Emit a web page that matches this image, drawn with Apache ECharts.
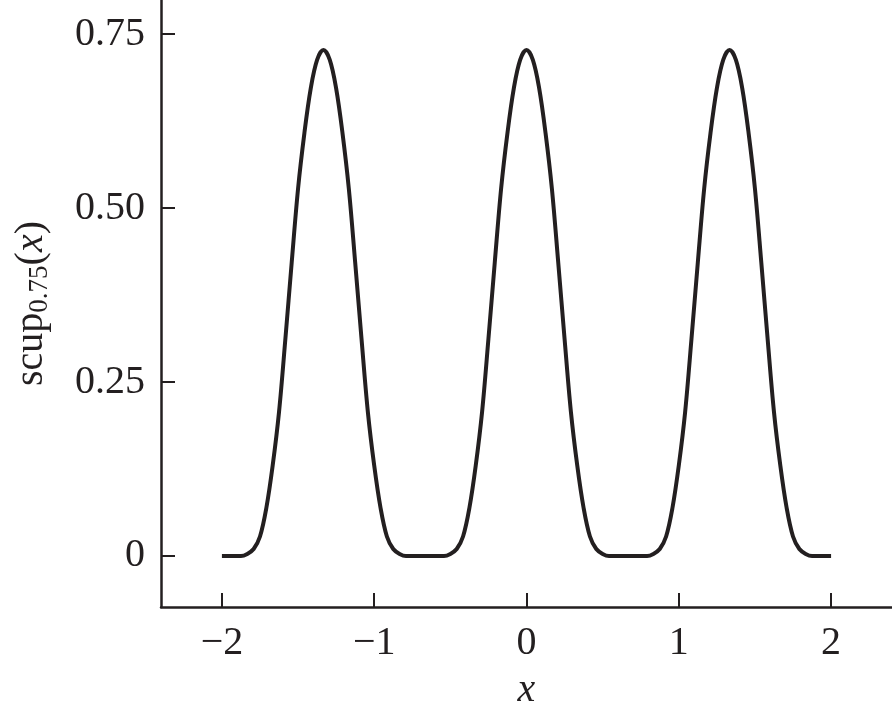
<!DOCTYPE html>
<html>
<head>
<meta charset="utf-8">
<script src="https://cdn.jsdelivr.net/npm/echarts@6/dist/echarts.min.js"></script>
<style>
html,body{margin:0;padding:0;background:#fff;}
#chart{width:892px;height:716px;}
</style>
</head>
<body>
<div id="chart"></div>
<script>
// x positions (step 1/24) from -2 to 2
var xValues = [
-2.0000,-1.9583,-1.9167,-1.8750,-1.8333,-1.7917,-1.7500,-1.7083,-1.6667,-1.6250,
-1.5833,-1.5417,-1.5000,-1.4583,-1.4167,-1.3750,-1.3333,-1.2917,-1.2500,-1.2083,
-1.1667,-1.1250,-1.0833,-1.0417,-1.0000,-0.9583,-0.9167,-0.8750,-0.8333,-0.7917,
-0.7500,-0.7083,-0.6667,-0.6250,-0.5833,-0.5417,-0.5000,-0.4583,-0.4167,-0.3750,
-0.3333,-0.2917,-0.2500,-0.2083,-0.1667,-0.1250,-0.0833,-0.0417,0.0000,0.0417,
0.0833,0.1250,0.1667,0.2083,0.2500,0.2917,0.3333,0.3750,0.4167,0.4583,
0.5000,0.5417,0.5833,0.6250,0.6667,0.7083,0.7500,0.7917,0.8333,0.8750,
0.9167,0.9583,1.0000,1.0417,1.0833,1.1250,1.1667,1.2083,1.2500,1.2917,
1.3333,1.3750,1.4167,1.4583,1.5000,1.5417,1.5833,1.6250,1.6667,1.7083,
1.7500,1.7917,1.8333,1.8750,1.9167,1.9583,2.0000
];
// scup_0.75(x) values
var yValues = [
0,0,0,0,0.003,0.010,0.028,0.069,0.130,0.207,
0.312,0.422,0.528,0.608,0.672,0.713,0.727,0.713,0.672,0.608,
0.528,0.422,0.312,0.207,0.130,0.069,0.028,0.010,0.003,0,
0,0,0,0,0,0,0.003,0.010,0.028,0.069,
0.130,0.207,0.312,0.422,0.528,0.608,0.672,0.713,0.727,0.713,
0.672,0.608,0.528,0.422,0.312,0.207,0.130,0.069,0.028,0.010,
0.003,0,0,0,0,0,0,0,0.003,0.010,
0.028,0.069,0.130,0.207,0.312,0.422,0.528,0.608,0.672,0.713,
0.727,0.713,0.672,0.608,0.528,0.422,0.312,0.207,0.130,0.069,
0.028,0.010,0.003,0,0,0,0
];
var xTicks = [-2, -1, 0, 1, 2];
var yTicks = [0, 0.25, 0.5, 0.75];
var yTickLabels = ['0', '0.25', '0.50', '0.75'];

var data = xValues.map(function (x, i) { return [x, yValues[i]]; });
var ink = '#231f20';
var serif = '"Times New Roman","Liberation Serif","DejaVu Serif",serif';

var chart = echarts.init(document.getElementById('chart'), null, {renderer: 'canvas'});
chart.setOption({
  animation: false,
  backgroundColor: '#ffffff',
  grid: {left: 161, right: 0, top: 0, bottom: 109, containLabel: false},
  xAxis: {
    type: 'value',
    min: -2.4, max: 2.4,
    name: 'x',
    nameLocation: 'middle',
    nameGap: 63,
    nameTextStyle: {fontFamily: serif, fontStyle: 'italic', fontSize: 40, color: ink},
    axisLine: {show: true, onZero: false, lineStyle: {color: ink, width: 2.5}},
    axisTick: {show: true, inside: true, length: 14, customValues: xTicks, lineStyle: {color: ink, width: 2}},
    axisLabel: {
      customValues: xTicks,
      margin: 16,
      fontFamily: serif, fontSize: 40, color: ink,
      formatter: function (v) { return String(v).replace('-', '\u2212'); }
    },
    splitLine: {show: false}
  },
  yAxis: {
    type: 'value',
    min: -0.0733, max: 0.799,
    name: '{a|scup}{s|0.75}{a|(}{i|x}{a|)}',
    nameLocation: 'middle',
    nameGap: 108,
    nameRotate: 90,
    nameTextStyle: {
      color: ink,
      rich: {
        a: {fontFamily: serif, fontSize: 40, color: ink},
        i: {fontFamily: serif, fontSize: 40, fontStyle: 'italic', color: ink},
        s: {fontFamily: serif, fontSize: 27, color: ink, verticalAlign: 'bottom', padding: [16, 0, 0, 0]}
      }
    },
    axisLine: {show: true, onZero: false, lineStyle: {color: ink, width: 2.5}},
    axisTick: {show: true, inside: true, length: 14, customValues: yTicks, lineStyle: {color: ink, width: 2}},
    axisLabel: {
      customValues: yTicks,
      margin: 16,
      fontFamily: serif, fontSize: 40, color: ink,
      formatter: function (v) {
        var idx = yTicks.indexOf(Math.round(v * 100) / 100);
        return idx >= 0 ? yTickLabels[idx] : '';
      }
    },
    splitLine: {show: false}
  },
  series: [{
    type: 'line',
    data: data,
    showSymbol: false,
    smooth: 0.35,
    lineStyle: {color: ink, width: 4},
    clip: true
  }]
});
</script>
</body>
</html>
